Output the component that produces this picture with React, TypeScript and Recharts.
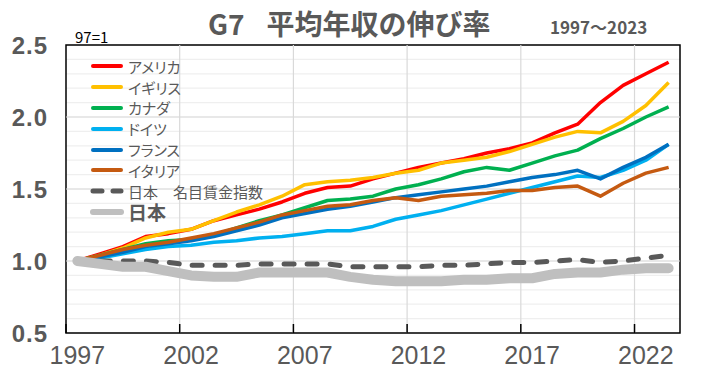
import React from 'react';
import { LineChart, Line, XAxis, YAxis, CartesianGrid, ReferenceLine, ReferenceArea, Legend } from 'recharts';

// 1997=1 として指数化した平均年収
const years = [1997, 1998, 1999, 2000, 2001, 2002, 2003, 2004, 2005, 2006, 2007, 2008, 2009, 2010, 2011, 2012, 2013, 2014, 2015, 2016, 2017, 2018, 2019, 2020, 2021, 2022, 2023];
const usa = [1.00, 1.05, 1.10, 1.17, 1.19, 1.22, 1.28, 1.32, 1.36, 1.41, 1.47, 1.51, 1.52, 1.57, 1.61, 1.65, 1.68, 1.71, 1.75, 1.78, 1.82, 1.89, 1.95, 2.10, 2.22, 2.30, 2.38];
const uk = [1.00, 1.04, 1.09, 1.16, 1.20, 1.22, 1.28, 1.34, 1.39, 1.45, 1.53, 1.55, 1.56, 1.58, 1.61, 1.63, 1.68, 1.70, 1.72, 1.76, 1.81, 1.86, 1.90, 1.89, 1.97, 2.08, 2.24];
const canada = [1.00, 1.04, 1.08, 1.12, 1.14, 1.15, 1.18, 1.23, 1.28, 1.32, 1.37, 1.42, 1.43, 1.45, 1.50, 1.53, 1.57, 1.62, 1.65, 1.63, 1.68, 1.73, 1.77, 1.85, 1.92, 2.00, 2.07];
const germany = [1.00, 1.02, 1.05, 1.08, 1.10, 1.11, 1.13, 1.14, 1.16, 1.17, 1.19, 1.21, 1.21, 1.24, 1.29, 1.32, 1.35, 1.39, 1.43, 1.47, 1.51, 1.55, 1.59, 1.58, 1.63, 1.70, 1.81];
const france = [1.00, 1.03, 1.06, 1.10, 1.12, 1.14, 1.17, 1.21, 1.25, 1.30, 1.33, 1.36, 1.38, 1.41, 1.44, 1.46, 1.48, 1.50, 1.52, 1.55, 1.58, 1.60, 1.63, 1.57, 1.65, 1.72, 1.81];
const italy = [1.00, 1.04, 1.08, 1.11, 1.13, 1.16, 1.19, 1.23, 1.27, 1.32, 1.35, 1.38, 1.39, 1.42, 1.44, 1.42, 1.45, 1.46, 1.47, 1.49, 1.49, 1.51, 1.52, 1.45, 1.54, 1.61, 1.65];
const japanWage = [1.00, 1.00, 1.00, 1.00, 0.99, 0.97, 0.97, 0.97, 0.98, 0.98, 0.98, 0.98, 0.96, 0.96, 0.96, 0.96, 0.97, 0.97, 0.98, 0.99, 0.99, 1.00, 1.01, 0.99, 1.00, 1.02, 1.04];
const japan = [1.00, 0.98, 0.96, 0.96, 0.93, 0.90, 0.89, 0.89, 0.92, 0.92, 0.92, 0.92, 0.89, 0.87, 0.86, 0.86, 0.86, 0.87, 0.87, 0.88, 0.88, 0.91, 0.92, 0.92, 0.94, 0.95, 0.95];

const xLabels = [1997, 2002, 2007, 2012, 2017, 2022];
const xGrid = [2001.5, 2006.5, 2011.5, 2016.5, 2021.5];
const yTicks = [0.5, 0.6, 0.7, 0.8, 0.9, 1.0, 1.1, 1.2, 1.3, 1.4, 1.5, 1.6, 1.7, 1.8, 1.9, 2.0, 2.1, 2.2, 2.3, 2.4, 2.5];
const yMajor = [1.0, 1.5, 2.0];

const series = [
    { key: 'usa', name: 'アメリカ', color: '#FF0000', width: 3.5 },
    { key: 'uk', name: 'イギリス', color: '#FFC000', width: 3.5 },
    { key: 'canada', name: 'カナダ', color: '#00B050', width: 3.5 },
    { key: 'germany', name: 'ドイツ', color: '#00B0F0', width: 3.5 },
    { key: 'france', name: 'フランス', color: '#0070C0', width: 3.5 },
    { key: 'italy', name: 'イタリア', color: '#C55A11', width: 3.5 },
];

const data = years.map((year, i) => ({
    year,
    usa: usa[i],
    uk: uk[i],
    canada: canada[i],
    germany: germany[i],
    france: france[i],
    italy: italy[i],
    japanWage: japanWage[i],
    japan: japan[i],
}));

const TEXT = '#595959';
const JP_FONT = '"Noto Sans CJK JP", "Noto Sans", sans-serif';
const HALF_BAND = 614 / 27 / 2;

const XTick = ({ x, y, payload }: any) => (
    <g>
        <line x1={x - HALF_BAND} x2={x - HALF_BAND} y1={y - 9} y2={y} stroke="#000" strokeWidth={1.5} />
        <text x={x} y={y + 31} textAnchor="middle" fontSize={25} fill={TEXT} fontFamily="Liberation Sans, Arial, sans-serif">
            {payload.value}
        </text>
    </g>
);

const YTick = ({ x, y, payload }: any) => {
    const v = payload.value;
    if (Math.round(v * 10) % 5 !== 0) return null;
    return (
        <text x={x} y={y} dy="0.36em" textAnchor="end" fontSize={24} fontWeight="bold" fill={TEXT} letterSpacing={1} fontFamily="Liberation Sans, Arial, sans-serif">
            {v.toFixed(1)}
        </text>
    );
};

const LegendBox = () => {
    const rows = [
        ...series.map(s => ({ name: s.name, color: s.color, w: 4, dash: undefined as string | undefined, big: false })),
        { name: '日本　名目賃金指数', color: TEXT, w: 5, dash: '9 11', big: false },
        { name: '日本', color: '#BFBFBF', w: 6, dash: undefined, big: true },
    ];
    return (
        <div style={{ fontFamily: JP_FONT, color: TEXT, fontFeatureSettings: '"palt"' }}>
            {rows.map(r => (
                <div key={r.name} style={{ display: 'flex', alignItems: 'center', height: 20.8 }}>
                    <svg width={38} height={10}>
                        <line x1={3} x2={31} y1={5} y2={5} stroke={r.color} strokeWidth={r.w} strokeLinecap="round" strokeDasharray={r.dash} />
                    </svg>
                    <span style={{ fontSize: r.big ? 19 : 15, fontWeight: r.big ? 'bold' : 'normal', whiteSpace: 'nowrap', lineHeight: 1 }}>{r.name}</span>
                </div>
            ))}
        </div>
    );
};

export default function App() {
    return (
        <div style={{ position: 'absolute', left: 0, top: 0, width: 705, height: 381, background: '#fff' }}>
            <div style={{ position: 'absolute', left: 208, top: 4, fontFamily: JP_FONT, fontWeight: 'bold', fontSize: 28, color: TEXT, whiteSpace: 'nowrap', lineHeight: 1.4 }}>
                G7<span style={{ marginLeft: 22 }}>平均年収の伸び率</span>
            </div>
            <div style={{ position: 'absolute', left: 550, top: 15, fontFamily: JP_FONT, fontWeight: 'bold', fontSize: 17, color: TEXT, whiteSpace: 'nowrap', lineHeight: 1.4 }}>
                1997～2023
            </div>
            <div style={{ position: 'absolute', left: 75, top: 28, fontFamily: JP_FONT, fontSize: 15, color: '#000', whiteSpace: 'nowrap', lineHeight: 1.2 }}>
                97=1
            </div>
            <LineChart width={705} height={381} data={data} margin={{ top: 45, right: 25, left: 0, bottom: 0 }}>
                <CartesianGrid vertical={false} stroke="#EFEFEF" strokeWidth={1.2} />
                {yMajor.map(v => (
                    <ReferenceLine key={v} y={v} stroke="#D9D9D9" strokeWidth={1.2} />
                ))}
                {xGrid.map(v => (
                    <ReferenceLine key={v} x={v} stroke="#D9D9D9" strokeWidth={1.2} />
                ))}
                <XAxis
                    type="number"
                    dataKey="year"
                    domain={[1996.5, 2023.5]}
                    ticks={xLabels}
                    height={48}
                    tickSize={0}
                    tickMargin={0}
                    axisLine={false}
                    tick={<XTick />}
                    interval={0}
                />
                <YAxis
                    type="number"
                    domain={[0.5, 2.5]}
                    ticks={yTicks}
                    width={66}
                    tickSize={0}
                    tickMargin={18}
                    axisLine={false}
                    tick={<YTick />}
                    interval={0}
                />
                <ReferenceArea x1={1996.5} x2={2023.5} y1={0.5} y2={2.5} fill="none" stroke="#000" strokeWidth={1.5} />
                {series.map(s => (
                    <Line key={s.key} type="linear" dataKey={s.key} name={s.name} stroke={s.color} strokeWidth={s.width} dot={false} isAnimationActive={false} strokeLinejoin="round" />
                ))}
                <Line type="linear" dataKey="japanWage" name="日本　名目賃金指数" stroke={TEXT} strokeWidth={5} strokeDasharray="10 13" strokeLinecap="round" dot={false} isAnimationActive={false} />
                <Line type="linear" dataKey="japan" name="日本" stroke="#BFBFBF" strokeWidth={10} strokeLinecap="round" strokeLinejoin="round" dot={false} isAnimationActive={false} />
                <Legend content={<LegendBox />} layout="horizontal" verticalAlign="middle" align="center" wrapperStyle={{ left: 90, top: 56, width: 220 }} />
            </LineChart>
        </div>
    );
}
